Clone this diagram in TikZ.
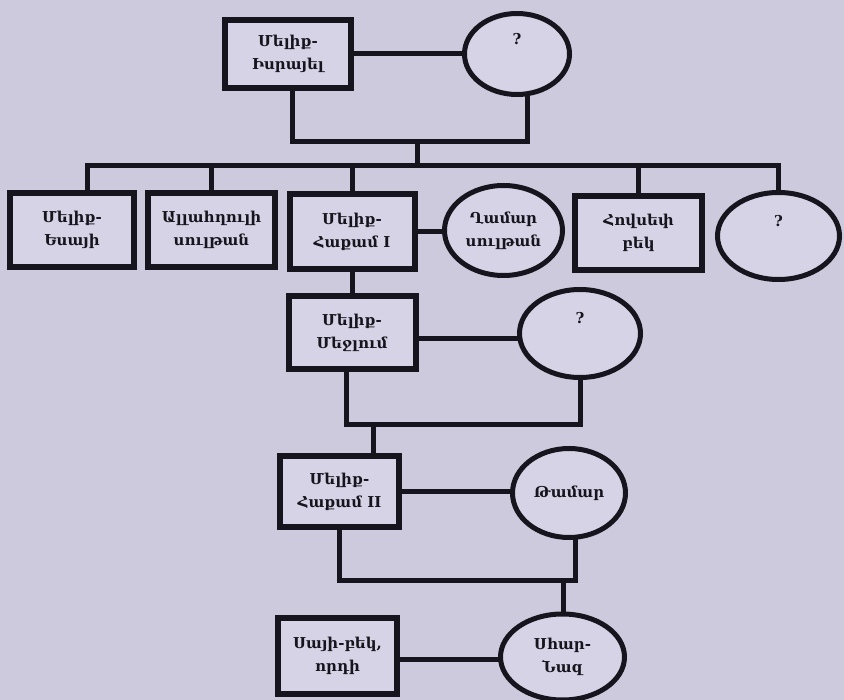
\documentclass[tikz,border=0pt]{standalone}
\usepackage{fontspec}
\setmainfont{DejaVu Serif}
\usetikzlibrary{calc,backgrounds,shapes.geometric}
\definecolor{bg}{RGB}{205,202,222}
\definecolor{ink}{RGB}{22,20,28}
\definecolor{boxfill}{RGB}{214,211,230}
\tikzset{
  lbl/.style={font=\bfseries\fontsize{15}{23}\selectfont, text=ink},
  pbox/.style={lbl, draw=ink, line width=6pt, fill=boxfill, rectangle, align=center, inner sep=0pt},
  poval/.style={lbl, draw=ink, line width=5pt, fill=boxfill, ellipse, align=center, inner sep=0pt},
  qmark/.style={label={[yshift=15pt, lbl]center:?}},
  link/.style={draw=ink, line width=5pt},
}
\begin{document}
\begin{tikzpicture}[x=1pt, y=-1pt]
\useasboundingbox (0,0) rectangle (844,700);
% nodes
\node[pbox, minimum width=126, minimum height=68] (isr) at (288,54) {Մելիք-\\Իսրայել};
\node[poval, qmark, minimum width=105, minimum height=81] (q1) at (517,54) {};
\node[pbox, minimum width=124, minimum height=74] (esayi) at (72,230) {Մելիք-\\Եսայի};
\node[pbox, minimum width=127, minimum height=74] (allah) at (211.5,230) {Ալլահղուլի\\սուլթան};
\node[pbox, minimum width=125, minimum height=75] (hakam1) at (352,231.5) {Մելիք-\\Հաքամ I};
\node[poval, minimum width=118, minimum height=90] (ghamar) at (503.5,230.5) {Ղամար\\սուլթան};
\node[pbox, minimum width=127, minimum height=74] (hovsep) at (638.5,233) {Հովսեփ\\բեկ};
\node[poval, qmark, minimum width=122, minimum height=87] (q2) at (778.5,236) {};
\node[pbox, minimum width=127, minimum height=73] (mejlum) at (352,332.5) {Մելիք-\\Մեջլում};
\node[poval, qmark, minimum width=121, minimum height=88] (q3) at (580,333.5) {};
\node[pbox, minimum width=119, minimum height=71] (hakam2) at (339.5,491.5) {Մելիք-\\Հաքամ II};
\node[poval, minimum width=113, minimum height=89] (tamar) at (569,493) {Թամար};
\node[poval, minimum width=124, minimum height=86] (shahnaz) at (562.5,657) {Սհար-\\Նազ};
\node[pbox, minimum width=119, minimum height=76] (sayi) at (337.5,656) {Սայի-բեկ,\\որդի};
% connectors
\begin{scope}[on background layer]
\fill[bg] (0,0) rectangle (844,700);
\coordinate (j1) at (417,142);
\coordinate (bus) at (417,166);
\coordinate (j3) at (373,425);
\coordinate (j4) at (563,580);
\draw[link] (isr) -- (isr -| q1.center);
\draw[link] ([xshift=4pt]isr.center) |- (j1) -| ([xshift=10pt]q1.center);
\draw[link] (j1) -- (bus);
\draw[link] ([xshift=15pt]esayi.center) |- (bus) -| (q2.center);
\draw[link] (allah) -- (allah |- bus);
\draw[link] (hakam1) -- (hakam1 |- bus);
\draw[link] (hovsep) -- (hovsep |- bus);
\draw[link] (hakam1) -- (hakam1 -| ghamar.center);
\draw[link] (hakam1) -- (hakam1 |- mejlum.center);
\draw[link] ([yshift=-6pt]mejlum.center) -- ([yshift=-6pt]mejlum.center -| q3.center);
\draw[link] ([xshift=-6pt]mejlum.center) |- (j3) -| (q3.center);
\draw[link] (j3) -- (j3 |- hakam2.north);
\draw[link] (hakam2) -- (hakam2 -| tamar.center);
\draw[link] (hakam2) |- (j4) -| ([xshift=6pt]tamar.center);
\draw[link] (j4) -- (j4 |- shahnaz.center);
\draw[link] ([yshift=-3pt]sayi.center) -- ([yshift=-3pt]sayi.center -| shahnaz.center);
\end{scope}
\end{tikzpicture}
\end{document}
